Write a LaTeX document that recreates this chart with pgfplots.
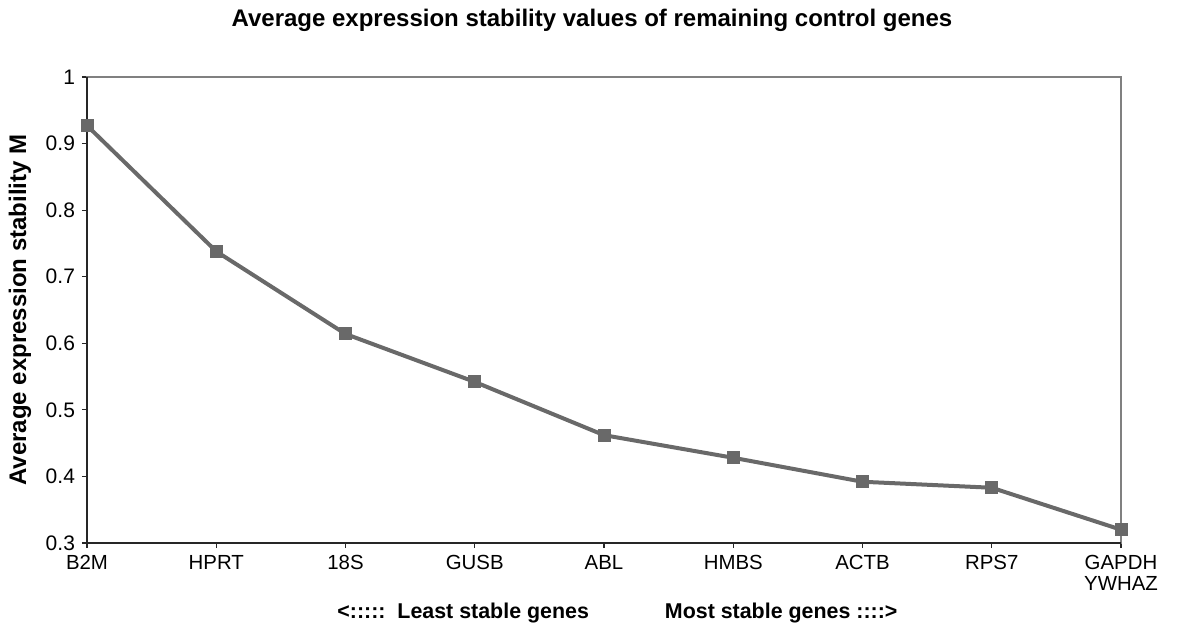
\documentclass[border=0pt]{standalone}
\usepackage{fontspec}
\setmainfont{Liberation Sans}
\usepackage{pgfplots}
\pgfplotsset{compat=1.18}

\definecolor{linegray}{HTML}{696969}

\begin{document}
\begin{tikzpicture}
\begin{axis}[
    scale only axis,
    width=517pt, height=233pt,
    xmin=0, xmax=8,
    ymin=0.3, ymax=1,
    clip=false,
    xtick={0,...,8},
    xticklabels={B2M,HPRT,18S,GUSB,ABL,HMBS,ACTB,RPS7,{GAPDH\\YWHAZ}},
    xticklabel style={align=center, font=\fontsize{10.2}{10.5}\selectfont},
    ytick={0.3,0.4,...,1.0},
    yticklabel style={font=\fontsize{10.5}{12}\selectfont},
    /pgf/number format/assume math mode=true,
    /pgf/number format/fixed,
    /pgf/number format/precision=1,
    tick align=outside,
    xtick pos=left, ytick pos=left,
    major tick length=2.5pt,
    tick style={black!85, line width=0.6pt},
    axis line style={draw=gray, line width=0.6pt},
    title={Average expression stability values of remaining control genes},
    title style={at={(axis description cs:0.4884,1.122)}, anchor=center, yshift=-6pt,
                 inner sep=0pt, font=\bfseries\fontsize{12}{14}\selectfont},
    ylabel={Average expression stability M},
    ylabel style={at={(axis description cs:-0.0648,0.5)}, anchor=center, inner sep=0pt,
                  font=\bfseries\fontsize{12}{14}\selectfont},
    xlabel={<:::::\ \ Least stable genes\hspace{38pt}Most stable genes ::::>},
    xlabel style={at={(axis description cs:0.513,-0.150)}, anchor=center, inner sep=0pt,
                  font=\bfseries\fontsize{10.7}{12}\selectfont},
]
\addplot[color=linegray, line width=2pt, mark=square*, mark size=3pt,
         mark options={fill=linegray, draw=linegray, line width=0pt}]
    coordinates {
    (0,0.927) (1,0.738) (2,0.614) (3,0.542) (4,0.462)
    (5,0.428) (6,0.392) (7,0.383) (8,0.320)
};
\draw[black!85, line width=0.6pt] (rel axis cs:0,1) |- (rel axis cs:1,0);
\end{axis}
\useasboundingbox (current axis.south west) ++(-43.5pt,-43.5pt) rectangle ([shift={(29pt,38.5pt)}]current axis.north east);
\end{tikzpicture}
\end{document}
